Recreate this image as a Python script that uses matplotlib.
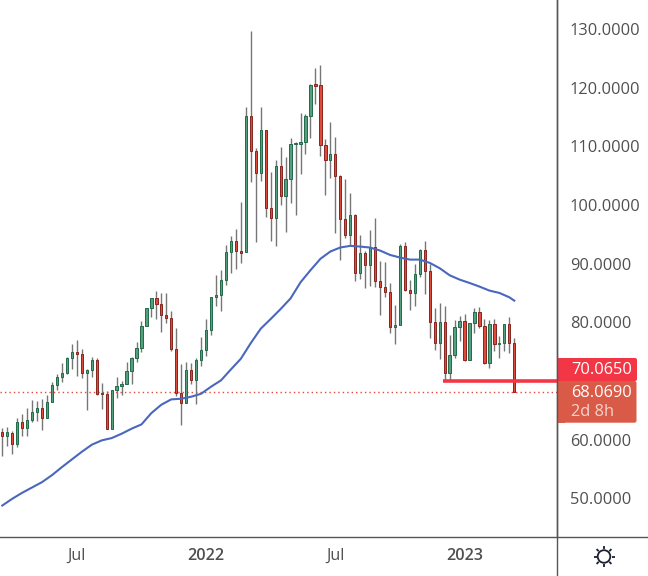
#!/usr/bin/env python3
"""Weekly candlestick chart with moving average and last price tags."""

import math
import numpy as np
import matplotlib
matplotlib.use("Agg")
import matplotlib.pyplot as plt
from matplotlib.patches import Circle, FancyBboxPatch, Rectangle

plt.rcParams["font.family"] = ["Open Sans", "DejaVu Sans"]

opens = [61.37, 60.63, 61.20, 59.27, 63.08, 62.00, 63.36, 64.73, 65.47, 63.70,
         66.43, 69.33, 70.70, 71.32, 74.00, 75.02, 74.68, 71.38, 71.89, 73.65,
         67.97, 67.85, 61.83, 68.48, 69.16, 69.50, 71.72, 73.94, 75.70, 79.39,
         82.52, 84.23, 83.20, 81.33, 80.82, 75.53, 68.03, 66.26, 71.95, 70.19,
         73.60, 75.30, 78.77, 84.34, 84.68, 87.24, 91.92, 93.96, 92.09, 91.92,
         115.11, 109.14, 105.39, 112.72, 99.42, 97.88, 106.58, 101.58, 104.37, 110.33,
         110.45, 110.68, 115.11, 120.40, 120.40, 110.16, 107.61, 108.63, 104.93, 97.71,
         94.92, 98.39, 88.44, 91.91, 89.80, 92.93, 87.13, 86.11, 85.26, 79.23,
         79.57, 93.10, 85.60, 85.03, 88.33, 92.42, 88.84, 80.14, 76.50, 80.14,
         71.39, 74.40, 79.23, 80.31, 73.60, 79.91, 81.85, 79.46, 73.09, 79.80,
         76.33, 76.50, 79.80, 76.56]
closes = [60.63, 61.26, 59.27, 63.08, 62.00, 63.42, 64.78, 65.47, 63.70, 66.49,
          69.39, 70.75, 71.44, 74.00, 75.02, 74.62, 71.38, 71.95, 73.65, 67.85,
          67.80, 61.83, 68.54, 69.22, 69.56, 71.78, 74.00, 75.70, 79.45, 82.52,
          84.23, 83.15, 81.27, 80.76, 75.47, 67.97, 66.26, 71.95, 70.19, 73.65,
          75.36, 78.77, 84.40, 84.74, 87.30, 91.92, 93.96, 92.09, 91.86, 115.11,
          109.14, 105.39, 112.72, 99.42, 97.88, 106.58, 101.58, 104.37, 110.33, 110.51,
          110.68, 115.11, 120.40, 120.34, 110.16, 107.61, 108.63, 104.88, 97.65, 94.92,
          98.39, 88.44, 91.91, 89.80, 92.93, 87.08, 86.05, 85.20, 79.23, 79.63,
          93.10, 85.54, 85.03, 88.33, 92.42, 88.78, 80.08, 76.50, 80.14, 71.39,
          74.51, 79.29, 80.31, 73.60, 79.97, 81.85, 79.40, 73.09, 79.80, 76.33,
          76.56, 79.80, 76.50, 68.07]
highs = [61.94, 62.17, 61.43, 63.76, 64.33, 65.35, 66.72, 66.55, 67.00, 67.57,
         69.79, 71.15, 73.03, 74.17, 76.27, 76.95, 75.47, 72.12, 74.17, 73.88,
         69.62, 68.37, 68.54, 70.64, 69.96, 73.20, 74.17, 76.61, 80.19, 82.52,
         84.23, 85.42, 84.97, 84.97, 81.90, 79.11, 72.86, 73.31, 73.03, 73.88,
         77.46, 80.53, 84.40, 88.03, 88.89, 93.17, 94.70, 95.84, 100.61, 116.65,
         129.66, 109.65, 116.65, 112.72, 105.56, 107.66, 109.88, 108.17, 111.42, 110.68,
         115.62, 115.45, 120.62, 123.35, 123.86, 111.24, 114.14, 111.59, 105.10, 104.53,
         102.03, 98.56, 94.98, 92.14, 95.83, 97.76, 90.43, 90.26, 86.68, 82.93,
         93.33, 93.67, 87.19, 89.92, 92.59, 93.84, 89.92, 82.41, 83.38, 82.76,
         77.81, 80.37, 81.11, 81.50, 79.97, 82.41, 82.58, 80.54, 80.48, 80.65,
         77.64, 79.80, 80.88, 77.41]
lows = [57.22, 58.93, 57.56, 58.76, 60.63, 60.63, 63.02, 63.14, 61.66, 63.70,
        66.43, 68.48, 69.84, 71.15, 72.00, 70.81, 70.47, 65.01, 70.64, 67.57,
        65.18, 61.83, 61.83, 67.06, 67.57, 69.50, 69.45, 73.26, 74.90, 79.39,
        80.87, 80.53, 78.31, 79.91, 75.13, 67.46, 62.45, 66.26, 69.45, 66.04,
        72.57, 74.28, 77.86, 82.75, 81.95, 86.39, 88.43, 89.13, 90.15, 91.92,
        103.91, 93.73, 104.14, 97.98, 93.91, 93.05, 100.04, 95.44, 100.39, 98.34,
        105.33, 108.74, 111.47, 117.27, 108.40, 101.75, 104.65, 95.27, 90.66, 94.41,
        93.16, 87.02, 87.36, 85.82, 86.28, 86.05, 81.22, 84.29, 78.15, 76.27,
        79.57, 85.31, 82.07, 82.76, 87.76, 84.80, 77.30, 75.25, 73.72, 70.13,
        70.25, 73.94, 76.79, 73.43, 73.60, 78.15, 79.06, 72.98, 72.18, 75.08,
        73.89, 75.08, 74.74, 68.07]

ma_idx = [0, 2, 4, 6, 8, 10, 12, 14, 16, 18, 20, 22, 24, 26, 28, 30, 32, 34, 36, 38,
          40, 42, 44, 46, 48, 50, 52, 54, 56, 58, 60, 62, 64, 66, 68, 70, 72, 74, 76, 78,
          80, 82, 84, 86, 88, 90, 92, 94, 96, 98, 100, 102, 103]
ma_vals = [48.80, 49.95, 50.97, 51.88, 52.79, 53.98, 55.35, 56.66, 57.96, 59.16,
           59.90, 60.29, 61.03, 61.89, 62.62, 64.56, 65.98, 66.89, 67.00, 67.34,
           67.85, 69.05, 70.13, 72.00, 73.82, 76.49, 78.94, 80.59, 82.29, 84.10,
           86.84, 88.90, 90.84, 92.09, 92.77, 93.05, 92.93, 92.76, 92.25, 91.51,
           91.06, 90.71, 90.71, 90.15, 89.24, 88.04, 87.30, 86.73, 86.11, 85.43,
           85.03, 84.29, 83.72]

price_ticks = [50, 60, 70, 80, 90, 100, 110, 120, 130]
date_ticks = [15, 41, 67, 93]
date_labels = ["Jul", "2022", "Jul", "2023"]

last_price = 68.069
level_price = 70.065
level_start = 88.6

UP_FILL, UP_EDGE = "#549f7e", "#216a49"
DOWN_FILL, DOWN_EDGE = "#e04a3a", "#87241d"
WICK = "#767676"
LINE_BLUE = "#4a67bd"
TAG_RED = "#f23645"
TAG_ORANGE = "#d95a47"
AXIS_LINE = "#555555"
TEXT = "#505050"

W, H = 648, 576
PANE_W, PANE_H = 556.5, 536.5


def draw_candles(ax):
    x = np.arange(len(opens))
    o, c = np.array(opens), np.array(closes)
    up = c >= o
    ax.vlines(x, lows, highs, color=WICK, lw=1.0, zorder=2)
    bottoms = np.minimum(o, c)
    heights = np.maximum(np.abs(c - o), 0.25)
    ax.bar(x[up], heights[up], bottom=bottoms[up], width=0.46, color=UP_FILL,
           edgecolor=UP_EDGE, linewidth=0.7, zorder=3)
    ax.bar(x[~up], heights[~up], bottom=bottoms[~up], width=0.46, color=DOWN_FILL,
           edgecolor=DOWN_EDGE, linewidth=0.7, zorder=3)


def draw_tags(over):
    # price tags sit over the scale, so they are drawn in pixel space
    over.add_patch(FancyBboxPatch((557, 381), 79.5, 41.7, boxstyle="round,pad=0,rounding_size=2",
                                  fc=TAG_ORANGE, ec="none"))
    over.add_patch(Rectangle((557, 381), 8, 41.7, fc=TAG_ORANGE, ec="none"))
    over.add_patch(FancyBboxPatch((557, 358), 80, 23, boxstyle="round,pad=0,rounding_size=2",
                                  fc=TAG_RED, ec="none"))
    over.add_patch(Rectangle((557, 358), 8, 23, fc=TAG_RED, ec="none"))
    over.text(571, 370, f"{level_price:.4f}", color="white", fontsize=11.8,
              fontweight="medium", va="center")
    over.text(571, 393, f"{last_price:.4f}", color="white", fontsize=11.8,
              fontweight="medium", va="center")
    over.text(571, 412, "2d 8h", color="#f5d3cd", fontsize=11.8,
              fontweight="medium", va="center")


def draw_sun(over, cx=604, cy=556.5):
    over.add_patch(Circle((cx, cy), 6.3, fc="none", ec="#1c2030", lw=1.3))
    for k in range(8):
        a = k * math.pi / 4
        over.plot([cx + 7.5 * math.cos(a), cx + 10.5 * math.cos(a)],
                  [cy + 7.5 * math.sin(a), cy + 10.5 * math.sin(a)],
                  color="#1c2030", lw=1.3, solid_capstyle="butt")


def main():
    fig = plt.figure(figsize=(W / 100, H / 100), dpi=100, facecolor="white")
    ax = fig.add_axes([0, 1 - PANE_H / H, PANE_W / W, PANE_H / H])
    ax.set_xlim(-0.463, 111.5)
    ax.set_ylim(43.52, 134.95)

    draw_candles(ax)
    ax.plot(ma_idx, ma_vals, color=LINE_BLUE, lw=1.5, zorder=4)
    ax.axhline(last_price, color="#e8453c", lw=1.0, ls=(0, (1, 2.2)), zorder=1)
    ax.hlines(level_price, level_start, 111.5, color=TAG_RED, lw=2.6, zorder=5)

    ax.yaxis.tick_right()
    ax.set_yticks(price_ticks)
    # the 70 label is hidden behind the price tags
    ax.set_yticklabels(["" if v == 70 else f"{v:.4f}" for v in price_ticks],
                       fontsize=11.8, color=TEXT)
    ax.tick_params(axis="y", length=0, pad=9.5)
    ax.set_xticks(date_ticks)
    ax.set_xticklabels(date_labels, fontsize=11.6, color=TEXT)
    ax.tick_params(axis="x", length=0, pad=8)
    for lab in ax.get_xticklabels()[1::2]:
        lab.set_fontweight("semibold")
    for name, sp in ax.spines.items():
        sp.set_visible(name == "right")
        sp.set_color(AXIS_LINE)
        sp.set_linewidth(1.0)

    over = fig.add_axes([0, 0, 1, 1], facecolor="none")
    over.set_xlim(0, W)
    over.set_ylim(H, 0)
    over.axis("off")
    over.plot([0, W], [PANE_H, PANE_H], color=AXIS_LINE, lw=1.0)
    over.plot([PANE_W, PANE_W], [0, H], color=AXIS_LINE, lw=1.0)
    draw_tags(over)
    draw_sun(over)

    fig.savefig("out.png", dpi=100)


if __name__ == "__main__":
    main()
